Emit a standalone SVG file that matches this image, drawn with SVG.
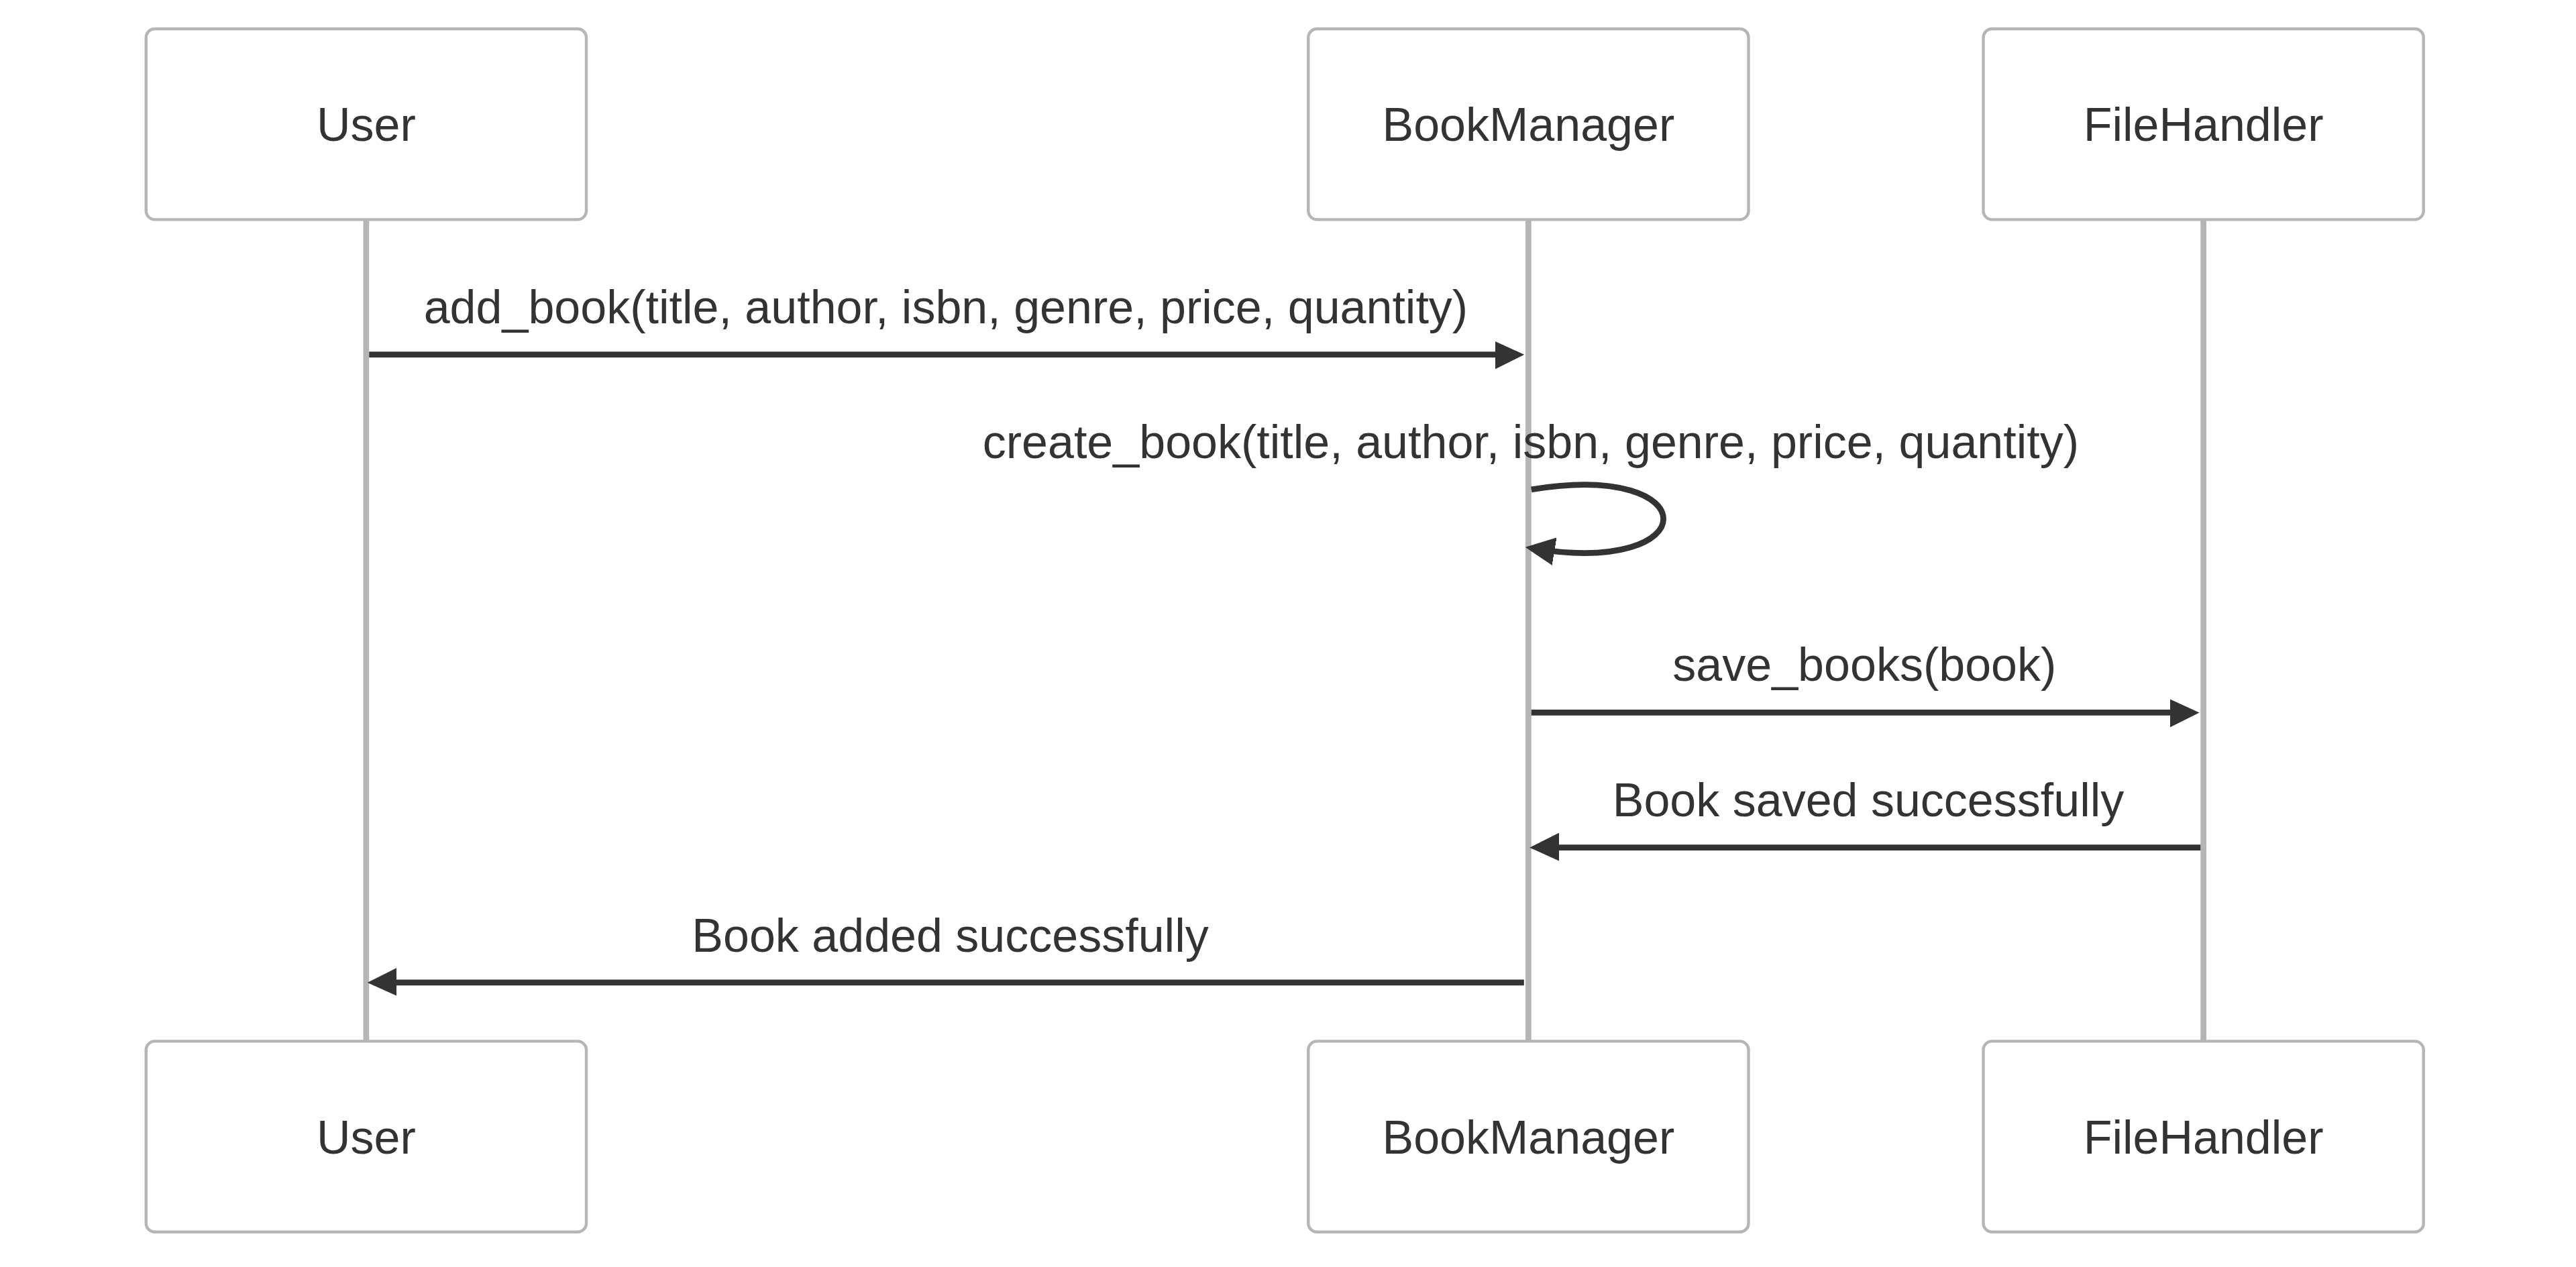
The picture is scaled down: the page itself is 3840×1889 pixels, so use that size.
<svg xmlns="http://www.w3.org/2000/svg" width="3840" height="1889" viewBox="0 0 3840 1889">
  <style>
    .actor { fill: #ffffff; stroke: #b5b5b5; stroke-width: 1; }
    .lifeline { stroke: #b5b5b5; stroke-width: 2; }
    .actor-text { font-family: "Liberation Sans", Arial, sans-serif; font-size: 16px; fill: #333333; text-anchor: middle; }
    .msg-text { font-family: "Liberation Sans", Arial, sans-serif; font-size: 16px; fill: #333333; text-anchor: middle; }
    .msg { fill: none; stroke: #333333; stroke-width: 2; marker-end: url(#arrowhead); }
  </style>
  <defs>
    <marker id="arrowhead" refX="7.9" refY="5" markerUnits="userSpaceOnUse" markerWidth="12" markerHeight="12" orient="auto">
      <path d="M -1 0 L 10 5 L 0 10 z" fill="#333333"/>
    </marker>
  </defs>
  <rect x="0" y="0" width="3840" height="1889" fill="#ffffff"/>
  <g transform="translate(-1 43) scale(4.375)">
    <g id="lifelines">
      <line class="lifeline" x1="125" y1="65" x2="125" y2="345"/>
      <line class="lifeline" x1="521" y1="65" x2="521" y2="345"/>
      <line class="lifeline" x1="751" y1="65" x2="751" y2="345"/>
    </g>
    <g id="actor-user-top">
      <rect class="actor" x="50" y="0" width="150" height="65" rx="3" ry="3"/>
      <text class="actor-text" x="125" y="38.2">User</text>
    </g>
    <g id="actor-bookmanager-top">
      <rect class="actor" x="446" y="0" width="150" height="65" rx="3" ry="3"/>
      <text class="actor-text" x="521" y="38.2">BookManager</text>
    </g>
    <g id="actor-filehandler-top">
      <rect class="actor" x="676" y="0" width="150" height="65" rx="3" ry="3"/>
      <text class="actor-text" x="751" y="38.2">FileHandler</text>
    </g>
    <g id="actor-user-bottom">
      <rect class="actor" x="50" y="345" width="150" height="65" rx="3" ry="3"/>
      <text class="actor-text" x="125" y="383.2">User</text>
    </g>
    <g id="actor-bookmanager-bottom">
      <rect class="actor" x="446" y="345" width="150" height="65" rx="3" ry="3"/>
      <text class="actor-text" x="521" y="383.2">BookManager</text>
    </g>
    <g id="actor-filehandler-bottom">
      <rect class="actor" x="676" y="345" width="150" height="65" rx="3" ry="3"/>
      <text class="actor-text" x="751" y="383.2">FileHandler</text>
    </g>
    <g id="connectors">
      <text class="msg-text" x="322.5" y="100.4">add_book(title, author, isbn, genre, price, quantity)</text>
      <path class="msg" d="M 126 111 L 517.5 111"/>
      <text class="msg-text" x="521.8" y="146.3">create_book(title, author, isbn, genre, price, quantity)</text>
      <path class="msg" d="M 522 157 C 582 147 582 187 522 177"/>
      <text class="msg-text" x="635.5" y="222.2">save_books(book)</text>
      <path class="msg" d="M 522 233 L 747.5 233"/>
      <text class="msg-text" x="636.8" y="268.3">Book saved successfully</text>
      <path class="msg" d="M 750 279 L 523.5 279"/>
      <text class="msg-text" x="324" y="314.4">Book added successfully</text>
      <path class="msg" d="M 519.5 325 L 127.5 325"/>
    </g>
  </g>
</svg>
